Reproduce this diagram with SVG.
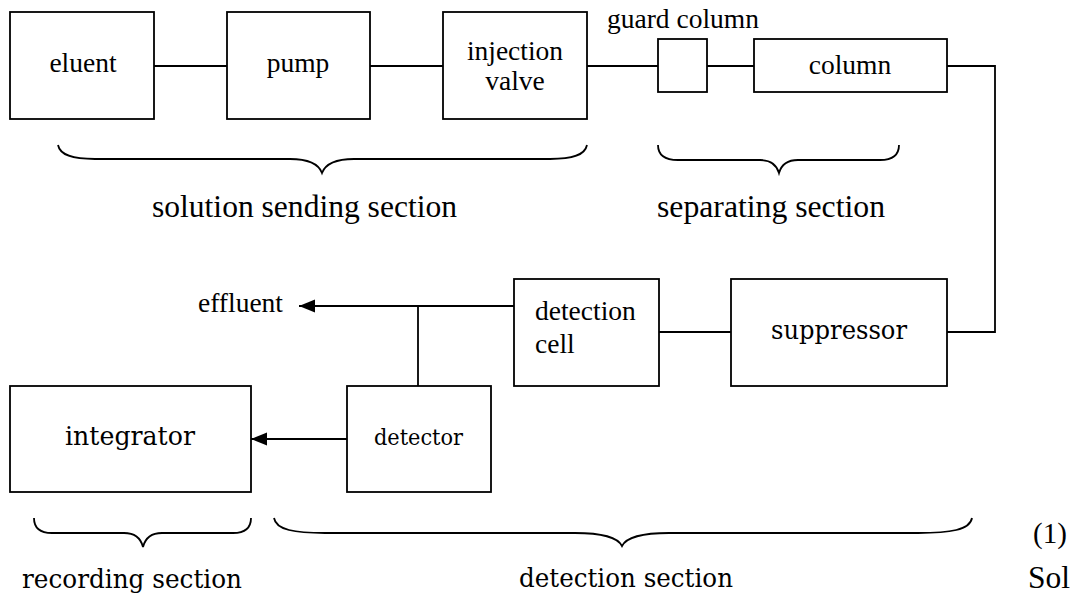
<svg xmlns="http://www.w3.org/2000/svg" width="1074" height="597" viewBox="0 0 1074 597">
<style>
.box{fill:#fff;stroke:#000;stroke-width:1.8}
.ln{fill:none;stroke:#000;stroke-width:1.8}
.br{fill:none;stroke:#000;stroke-width:1.8}
.t{font-family:"Liberation Serif","Times New Roman",serif;font-size:27.5px;fill:#000}
.L{font-family:"Liberation Serif","Times New Roman",serif;font-size:31.5px;fill:#000}
.s{font-family:"DejaVu Serif","Liberation Serif",serif;font-size:26px;fill:#000}
</style>
<defs>
<marker id="ah" markerWidth="16" markerHeight="14" refX="16" refY="7" orient="auto" markerUnits="userSpaceOnUse">
<path d="M0,0.5 L16,7 L0,13.5 Z" fill="#000"/>
</marker>
</defs>
<rect width="1074" height="597" fill="#fff"/>
<g id="connectors">
<line class="ln" x1="154" y1="66" x2="227" y2="66"/>
<line class="ln" x1="370" y1="66" x2="443" y2="66"/>
<line class="ln" x1="587" y1="66" x2="658" y2="66"/>
<line class="ln" x1="707" y1="66" x2="754" y2="66"/>
<polyline class="ln" points="947,66 995,66 995,332 947,332"/>
<line class="ln" x1="659" y1="332" x2="731" y2="332"/>
<line class="ln" x1="514" y1="306" x2="299" y2="306" marker-end="url(#ah)"/>
<line class="ln" x1="418" y1="306" x2="418" y2="386"/>
<line class="ln" x1="347" y1="439" x2="251" y2="439" marker-end="url(#ah)"/>
</g>
<g id="eluent"><rect class="box" x="10" y="12" width="144" height="107"/><text class="t" x="83" y="72" text-anchor="middle">eluent</text></g>
<g id="pump"><rect class="box" x="227" y="12" width="143" height="107"/><text class="t" x="298" y="72" text-anchor="middle">pump</text></g>
<g id="injection-valve"><rect class="box" x="443" y="12" width="144" height="107"/><text class="t" x="515" y="60" text-anchor="middle">injection</text><text class="t" x="515" y="90" text-anchor="middle">valve</text></g>
<g id="guard-column"><rect class="box" x="658" y="39" width="49" height="53"/><text class="t" x="607" y="28" textLength="152" lengthAdjust="spacingAndGlyphs">guard column</text></g>
<g id="column"><rect class="box" x="754" y="39" width="193" height="53"/><text class="t" x="850" y="74" text-anchor="middle">column</text></g>
<g id="detection-cell"><rect class="box" x="514" y="279" width="145" height="107"/><text class="t" x="535" y="320">detection</text><text class="t" x="535" y="353">cell</text></g>
<g id="suppressor"><rect class="box" x="731" y="279" width="216" height="107"/><text class="s" x="771" y="339" textLength="136" lengthAdjust="spacingAndGlyphs">suppressor</text></g>
<g id="integrator"><rect class="box" x="10" y="386" width="241" height="106"/><text class="s" x="65" y="445" textLength="130" lengthAdjust="spacingAndGlyphs">integrator</text></g>
<g id="detector"><rect class="box" x="347" y="386" width="144" height="106"/><text class="s" x="374" y="445" textLength="89" lengthAdjust="spacingAndGlyphs" style="font-size:22px">detector</text></g>
<g id="effluent"><text class="t" x="198" y="312">effluent</text></g>
<g id="braces">
<path class="br" d="M58,145 C60,155 72,159 95,159 L290,159 C310,159 319,165 322,173 C325,165 334,159 354,159 L550,159 C573,159 585,155 587,145"/>
<path class="br" d="M658,145 C658,155 665,160 678,160 L760,160 C772,160 777,166 779,173 C781,166 786,160 798,160 L880,160 C893,160 899,155 899,145"/>
<path class="br" d="M34,518 C34,528 40,533 52,533 L124,533 C136,533 141,539 143,547 C145,539 150,533 162,533 L233,533 C245,533 251,528 251,518"/>
<path class="br" d="M274,518 C276,530 295,533 325,533 L575,533 C605,533 618,538 622,546 C626,538 639,533 669,533 L918,533 C950,533 970,530 972,518"/>
</g>
<g id="labels">
<text class="L" x="152" y="217" textLength="305" lengthAdjust="spacingAndGlyphs">solution sending section</text>
<text class="L" x="657" y="217" textLength="228" lengthAdjust="spacingAndGlyphs">separating section</text>
<text class="s" x="22" y="588" textLength="220" lengthAdjust="spacingAndGlyphs">recording section</text>
<text class="s" x="519" y="587" textLength="214" lengthAdjust="spacingAndGlyphs">detection section</text>
<text class="L" x="1033" y="543" style="font-size:29px">(1)</text>
<text class="L" x="1028" y="588">Sol</text>
</g>
</svg>
